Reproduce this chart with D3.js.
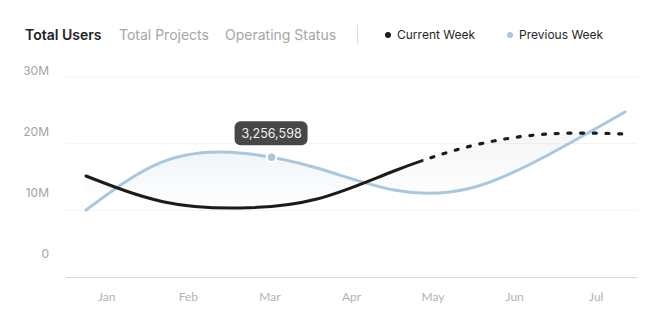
<!DOCTYPE html>
<html>
<head>
<meta charset="utf-8">
<script src="https://cdn.jsdelivr.net/npm/d3@7"></script>
<style>
  html, body { margin: 0; padding: 0; background: #fff; }
  svg { display: block; font-family: Inter, "Noto Sans", sans-serif; }
</style>
</head>
<body>
<svg id="chart" width="662" height="330"></svg>
<script>
// Tabs and legend entries
const tabs = ["Total Users", "Total Projects", "Operating Status"];
const legendItems = ["Current Week", "Previous Week"];

// Axis labels
const months = ["Jan", "Feb", "Mar", "Apr", "May", "Jun", "Jul"];
const yTicks = [0, 10e6, 20e6, 30e6];

// Samples taken at even intervals across the period (users)
const currentWeek = [15.15, 11.3, 10.35, 11.7, 15.9, 19.65, 21.45, 21.45].map(v => v * 1e6);
const previousWeek = [10.05, 17.3, 18.6, 16.35, 13.05, 13.35, 18.3, 24.75].map(v => v * 1e6);

// Sample index where the current week turns into a projection
const projectionFrom = 4.38;

// Highlighted sample on the previous-week line and its tooltip text
const highlightAt = 2.41;
const highlightLabel = "3,256,598";

const svg = d3.select("#chart");
const plot = { left: 66, right: 637, top: 77, bottom: 277 };

const xMonth = d3.scaleBand().domain(months).range([plot.left, plot.right]);
const xSample = d3.scaleLinear().domain([0, currentWeek.length - 1]).range([plot.left + 20, plot.right - 12]);
const y = d3.scaleLinear().domain([0, 30e6]).range([plot.bottom, plot.top]);
const yLabel = d3.scaleLinear().domain([0, 30e6]).range([254, 71]);

const COLOR_CUR = "#1b1b1b";
const COLOR_PREV = "#a9c7dd";

// ---- header tabs ----
const tabX = [25, 119, 225];
svg.append("g").selectAll("text").data(tabs).join("text")
  .attr("x", (d, i) => tabX[i])
  .attr("y", 40)
  .attr("font-size", 14)
  .attr("font-weight", (d, i) => i === 0 ? 600 : 400)
  .attr("fill", (d, i) => i === 0 ? "#222" : "#a6a6a6")
  .text(d => d);

svg.append("line")
  .attr("x1", 357.5).attr("x2", 357.5).attr("y1", 25).attr("y2", 44)
  .attr("stroke", "#dcdcdc").attr("stroke-width", 1);

// ---- legend ----
const legendX = [388, 510];
const legendColors = [COLOR_CUR, COLOR_PREV];
const lg = svg.append("g").selectAll("g").data(legendItems).join("g")
  .attr("transform", (d, i) => `translate(${legendX[i]},35)`);
lg.append("circle").attr("r", 3).attr("fill", (d, i) => legendColors[i]);
lg.append("text").attr("x", 9).attr("y", 4.3)
  .attr("font-size", 12).attr("fill", "#262626").text(d => d);

// ---- grid ----
svg.append("g").selectAll("line").data(yTicks.filter(t => t > 0)).join("line")
  .attr("x1", plot.left).attr("x2", plot.right)
  .attr("y1", d => y(d)).attr("y2", d => y(d))
  .attr("stroke", "#f2f2f2").attr("stroke-width", 1);

svg.append("line")
  .attr("x1", plot.left).attr("x2", plot.right)
  .attr("y1", plot.bottom + 0.5).attr("y2", plot.bottom + 0.5)
  .attr("stroke", "#d6d6d6").attr("stroke-width", 1);

// ---- y axis labels ----
const fmtM = v => v === 0 ? "0" : d3.format("~s")(v);
svg.append("g").selectAll("text").data(yTicks).join("text")
  .attr("x", 49).attr("y", d => yLabel(d)).attr("dy", "0.35em")
  .attr("text-anchor", "end").attr("font-size", 12).attr("fill", "#a3a3a3")
  .text(fmtM);

// ---- x axis labels ----
svg.append("g").selectAll("text").data(months).join("text")
  .attr("x", d => xMonth(d) + xMonth.bandwidth() / 2)
  .attr("y", 297).attr("dy", "0.35em")
  .attr("text-anchor", "middle")
  .attr("font-family", "Lato, sans-serif")
  .attr("font-size", 12).attr("fill", "#b3b3b3")
  .text(d => d);

// ---- difference fill between the two series ----
const idx = d3.range(currentWeek.length);
const curve = d3.curveNatural;
const defs = svg.append("defs");
const splitX = xSample(projectionFrom);

function fade(id, color, opacity) {
  const g = defs.append("linearGradient").attr("id", id)
    .attr("x1", 0).attr("y1", 0).attr("x2", 0).attr("y2", 1);
  g.append("stop").attr("offset", "0%").attr("stop-color", color).attr("stop-opacity", opacity);
  g.append("stop").attr("offset", "100%").attr("stop-color", color).attr("stop-opacity", 0);
}
fade("fadePrev", "#a9c7dd", 0.3);
fade("fadeCur", "#8a8a8a", 0.1);

defs.append("clipPath").attr("id", "aboveCur").append("path")
  .attr("d", d3.area().curve(curve).x(i => xSample(i)).y0(0).y1(i => y(currentWeek[i]))(idx));
defs.append("clipPath").attr("id", "belowCur").append("path")
  .attr("d", d3.area().curve(curve).x(i => xSample(i)).y0(330).y1(i => y(currentWeek[i]))(idx));
defs.append("clipPath").attr("id", "actual").append("rect")
  .attr("x", 0).attr("y", 0).attr("width", splitX).attr("height", 330);
defs.append("clipPath").attr("id", "projected").append("rect")
  .attr("x", splitX).attr("y", 0).attr("width", 662 - splitX).attr("height", 330);

const between = d3.area().curve(curve).x(i => xSample(i))
  .y0(i => y(currentWeek[i])).y1(i => y(previousWeek[i]));

// previous week ahead of the current week: shaded only over the recorded span
svg.append("g").attr("clip-path", "url(#actual)")
  .append("path").attr("d", between(idx))
  .attr("clip-path", "url(#aboveCur)").attr("fill", "url(#fadePrev)");
svg.append("path").attr("d", between(idx))
  .attr("clip-path", "url(#belowCur)").attr("fill", "url(#fadeCur)");

// ---- lines ----
const line = series => d3.line().curve(curve).x(i => xSample(i)).y(i => y(series[i]))(idx);

const prevPath = svg.append("path").attr("d", line(previousWeek))
  .attr("fill", "none").attr("stroke", COLOR_PREV).attr("stroke-width", 3)
  .attr("stroke-linecap", "round");

svg.append("path").attr("d", line(currentWeek))
  .attr("clip-path", "url(#actual)")
  .attr("fill", "none").attr("stroke", COLOR_CUR).attr("stroke-width", 3)
  .attr("stroke-linecap", "round");

svg.append("path").attr("d", line(currentWeek))
  .attr("clip-path", "url(#projected)")
  .attr("fill", "none").attr("stroke", COLOR_CUR).attr("stroke-width", 3.2)
  .attr("stroke-linecap", "round")
  .attr("stroke-dasharray", "3 9.7").attr("stroke-dashoffset", -2);

// ---- highlighted point and tooltip ----
const node = prevPath.node();
const hx = xSample(highlightAt);
let lo = 0, hi = node.getTotalLength();
for (let k = 0; k < 40; k++) {
  const mid = (lo + hi) / 2;
  if (node.getPointAtLength(mid).x < hx) lo = mid; else hi = mid;
}
const hy = node.getPointAtLength(lo).y;

svg.append("circle").attr("cx", hx).attr("cy", hy).attr("r", 4.8)
  .attr("fill", COLOR_PREV).attr("stroke", "#fff").attr("stroke-width", 2.2);

const tip = svg.append("g").attr("transform", `translate(${hx},${hy - 24})`);
tip.append("rect")
  .attr("x", -37).attr("y", -12).attr("width", 73).attr("height", 24)
  .attr("rx", 6).attr("fill", "#474747");
tip.append("text")
  .attr("text-anchor", "middle").attr("dy", "0.35em")
  .attr("font-size", 12.5).attr("fill", "#f2f2f2")
  .text(highlightLabel);
</script>
</body>
</html>
